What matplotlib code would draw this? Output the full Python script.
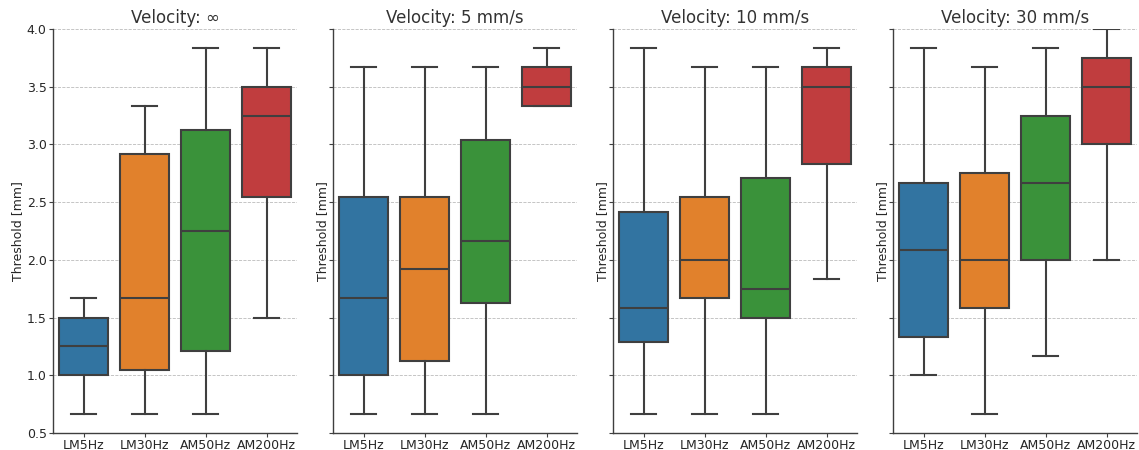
import matplotlib
matplotlib.use("Agg")
import matplotlib.pyplot as plt

categories = ["LM5Hz", "LM30Hz", "AM50Hz", "AM200Hz"]
velocities = ["Velocity: ∞", "Velocity: 5 mm/s", "Velocity: 10 mm/s", "Velocity: 30 mm/s"]
colors = ["#3274A1", "#E1812C", "#3A923A", "#C03D3E"]

# per panel: lists over categories
whislo_inf = [0.667, 0.667, 0.667, 1.5]
q1_inf     = [1.0, 1.042, 1.208, 2.542]
med_inf    = [1.25, 1.667, 2.25, 3.25]
q3_inf     = [1.5, 2.917, 3.125, 3.5]
whishi_inf = [1.667, 3.333, 3.833, 3.833]

whislo_5 = [0.667, 0.667, 0.667, 3.333]
q1_5     = [1.0, 1.125, 1.625, 3.333]
med_5    = [1.667, 1.917, 2.167, 3.5]
q3_5     = [2.542, 2.542, 3.042, 3.667]
whishi_5 = [3.667, 3.667, 3.667, 3.833]

whislo_10 = [0.667, 0.667, 0.667, 1.833]
q1_10     = [1.292, 1.667, 1.5, 2.833]
med_10    = [1.583, 2.0, 1.75, 3.5]
q3_10     = [2.417, 2.542, 2.708, 3.667]
whishi_10 = [3.833, 3.667, 3.667, 3.833]

whislo_30 = [1.0, 0.667, 1.167, 2.0]
q1_30     = [1.333, 1.583, 2.0, 3.0]
med_30    = [2.083, 2.0, 2.667, 3.5]
q3_30     = [2.667, 2.75, 3.25, 3.75]
whishi_30 = [3.833, 3.667, 3.833, 4.0]

panels = [
    (whislo_inf, q1_inf, med_inf, q3_inf, whishi_inf),
    (whislo_5, q1_5, med_5, q3_5, whishi_5),
    (whislo_10, q1_10, med_10, q3_10, whishi_10),
    (whislo_30, q1_30, med_30, q3_30, whishi_30),
]

fig = plt.figure(figsize=(11.39, 4.5), dpi=100)
lefts = [53, 333, 613, 893]
axw = 244 / 1139
bottom = 1 - 433 / 450
height = 404 / 450
line_c = "#3f3f3f"
text_c = "#262626"
axes = []
for i, (title, stats) in enumerate(zip(velocities, panels)):
    if i == 0:
        ax = fig.add_axes([lefts[i] / 1139, bottom, axw, height])
    else:
        ax = fig.add_axes([lefts[i] / 1139, bottom, axw, height], sharey=axes[0])
    axes.append(ax)
    wl, a, m, b, wh = stats
    bstats = []
    for j, cat in enumerate(categories):
        bstats.append(dict(whislo=wl[j], q1=a[j], med=m[j], q3=b[j], whishi=wh[j],
                           fliers=[], label=cat))
    ax.set_axisbelow(True)
    ax.yaxis.grid(True, linestyle="--", color="#bbbbbb", linewidth=0.6)
    bp = ax.bxp(bstats, positions=range(4), widths=0.8, capwidths=0.42,
                patch_artist=True, showfliers=False,
                boxprops=dict(edgecolor=line_c, linewidth=1.5),
                medianprops=dict(color=line_c, linewidth=1.5),
                whiskerprops=dict(color=line_c, linewidth=1.5),
                capprops=dict(color=line_c, linewidth=1.5))
    for patch, c in zip(bp["boxes"], colors):
        patch.set_facecolor(c)
    ax.set_xlim(-0.5, 3.5)
    ax.set_ylim(0.5, 4.0)
    ax.set_title(title, fontsize=12, color="#333333", pad=4)
    ax.spines["top"].set_visible(False)
    ax.spines["right"].set_visible(False)
    for s in ["left", "bottom"]:
        ax.spines[s].set_color(line_c)
        ax.spines[s].set_linewidth(1.0)
    ax.tick_params(axis="both", labelsize=9, colors=line_c, labelcolor=text_c,
                   length=3, pad=1.5)
    if i > 0:
        ax.tick_params(axis="y", labelleft=False)
        ax.set_ylabel("Threshold [mm]", fontsize=9, color=text_c, labelpad=0)
    else:
        ax.set_ylabel("Threshold [mm]", fontsize=9, color=text_c, labelpad=1.7)
    ax.set_xticks(range(4))
    ax.set_xticklabels(categories)

axes[0].set_yticks([0.5, 1.0, 1.5, 2.0, 2.5, 3.0, 3.5, 4.0])
fig.savefig("out.png", dpi=100)
